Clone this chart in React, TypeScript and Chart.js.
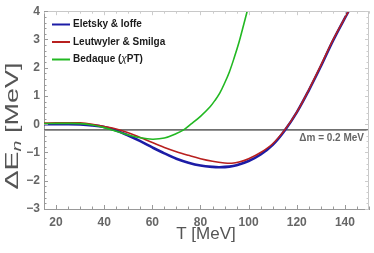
import React, { useEffect, useRef } from "react";
import { Chart, registerables } from "chart.js";

Chart.register(...registerables);

// ---- data ----
const tEletsky = [15, 20, 25, 30, 35, 40, 45, 50, 55, 60, 65, 70, 75, 80, 85, 88, 92, 95, 100, 105, 110, 115, 120, 125, 130, 135, 141.5];
const eEletsky = [0.0, 0.0, 0.0, -0.01, -0.04, -0.1, -0.22, -0.4, -0.6, -0.82, -1.03, -1.22, -1.36, -1.46, -1.51, -1.52, -1.5, -1.45, -1.3, -1.07, -0.73, -0.22, 0.42, 1.2, 2.05, 2.95, 4.0];

const tLeutwyler = [15, 20, 25, 30, 35, 40, 45, 50, 55, 60, 65, 70, 75, 80, 85, 90, 93, 96, 100, 105, 110, 115, 120, 125, 130, 135, 141.5];
const eLeutwyler = [0.04, 0.05, 0.05, 0.05, 0.0, -0.08, -0.17, -0.3, -0.47, -0.65, -0.82, -0.97, -1.1, -1.22, -1.31, -1.37, -1.38, -1.34, -1.22, -1.0, -0.69, -0.2, 0.43, 1.22, 2.08, 2.98, 4.0];

const tBedaque = [15, 20, 25, 30, 35, 40, 45, 50, 55, 60, 65, 70, 73, 76, 80, 84, 86, 88, 90, 92, 94, 96, 97.5, 99.4];
const eBedaque = [0.02, 0.03, 0.03, 0.02, -0.03, -0.12, -0.25, -0.38, -0.48, -0.53, -0.49, -0.33, -0.2, 0.0, 0.28, 0.62, 0.84, 1.1, 1.45, 1.85, 2.35, 2.9, 3.38, 4.0];

const deltaMRange = [15, 150];
const deltaMValue = -0.2;
const deltaMLabel = "Δm = 0.2 MeV";

const seriesNames = ["Eletsky & Ioffe", "Leutwyler & Smilga", "Bedaque (χPT)"];
const seriesColors = ["#1c1ca6", "#b8201f", "#22b822"];

const xTickValues = [20, 40, 60, 80, 100, 120, 140];
const yTickValues = [-3, -2, -1, 0, 1, 2, 3, 4];
const xTitle = "T [MeV]";

const FONT = "'Liberation Sans', Arial, sans-serif";

const pts = (xs: number[], ys: number[]) => xs.map((x, i) => ({ x, y: ys[i] }));

const decorPlugin = {
  id: "decor",
  afterDraw(chart: any) {
    const { ctx, chartArea: a } = chart;
    const xs = chart.scales.x;
    const ys = chart.scales.y;
    ctx.save();

    // top/right frame
    ctx.strokeStyle = "#c8c8c8";
    ctx.lineWidth = 1;
    ctx.beginPath();
    ctx.moveTo(a.left, Math.round(a.top) + 0.5);
    ctx.lineTo(a.right, Math.round(a.top) + 0.5);
    ctx.moveTo(Math.round(a.right) - 0.5, a.top);
    ctx.lineTo(Math.round(a.right) - 0.5, a.bottom);
    ctx.stroke();

    // inner ticks x
    for (let v = 15; v <= 150; v += 5) {
      const px = Math.round(xs.getPixelForValue(v)) + 0.5;
      const major = v % 20 === 0;
      const len = major ? 4 : 2.5;
      ctx.strokeStyle = "#999";
      ctx.beginPath();
      ctx.moveTo(px, a.bottom);
      ctx.lineTo(px, a.bottom - len);
      ctx.stroke();
      ctx.strokeStyle = "#ccc";
      ctx.beginPath();
      ctx.moveTo(px, a.top);
      ctx.lineTo(px, a.top + len);
      ctx.stroke();
    }
    // inner ticks y
    for (let i = -15; i <= 20; i++) {
      const v = i / 5;
      const py = Math.round(ys.getPixelForValue(v)) + 0.5;
      const major = i % 5 === 0;
      const len = major ? 4 : 2.5;
      ctx.strokeStyle = "#999";
      ctx.beginPath();
      ctx.moveTo(a.left, py);
      ctx.lineTo(a.left + len, py);
      ctx.stroke();
      ctx.strokeStyle = "#ccc";
      ctx.beginPath();
      ctx.moveTo(a.right, py);
      ctx.lineTo(a.right - len, py);
      ctx.stroke();
    }

    // legend
    const lx0 = 52, lx1 = 70, tx = 73;
    const rows = [24.5, 42, 59.5];
    ctx.textBaseline = "middle";
    ctx.textAlign = "left";
    seriesNames.forEach((name, i) => {
      ctx.strokeStyle = seriesColors[i];
      ctx.lineWidth = 2;
      ctx.beginPath();
      ctx.moveTo(lx0, rows[i]);
      ctx.lineTo(lx1, rows[i]);
      ctx.stroke();
      ctx.fillStyle = "#1a1a1a";
      if (name.includes("χ")) {
        const [pre, post] = name.split("χ");
        ctx.font = `bold 10px ${FONT}`;
        ctx.fillText(pre, tx, rows[i]);
        let w = ctx.measureText(pre).width;
        ctx.font = `italic 10px ${FONT}`;
        ctx.fillText("χ", tx + w, rows[i]);
        w += ctx.measureText("χ").width;
        ctx.font = `bold 10px ${FONT}`;
        ctx.fillText(post, tx + w, rows[i]);
      } else {
        ctx.font = `bold 10px ${FONT}`;
        ctx.fillText(name, tx, rows[i]);
      }
    });

    // delta m label
    ctx.font = `bold 10px ${FONT}`;
    ctx.fillStyle = "#666";
    ctx.textAlign = "right";
    ctx.fillText(deltaMLabel, 364, 138.5);

    // x title
    ctx.font = `17px ${FONT}`;
    ctx.fillStyle = "#555";
    ctx.textAlign = "center";
    ctx.fillText(xTitle, 206, 234);

    // y title: ΔE_n [MeV]
    ctx.translate(13, 126);
    ctx.rotate(-Math.PI / 2);
    ctx.scale(1.5, 1);
    const big = `19px ${FONT}`;
    const mid = `18px ${FONT}`;
    const sub = `italic 13px ${FONT}`;
    const parts: [string, string, number][] = [
      ["ΔE", big, 0],
      ["n", sub, 4],
      [" [MeV]", mid, 0],
    ];
    let total = 0;
    parts.forEach(([t, f]) => {
      ctx.font = f;
      total += ctx.measureText(t).width;
    });
    let cx = -total / 2;
    ctx.textAlign = "left";
    parts.forEach(([t, f, dy]) => {
      ctx.font = f;
      ctx.fillText(t, cx, dy);
      cx += ctx.measureText(t).width;
    });

    ctx.restore();
  },
};

export default function App() {
  const ref = useRef<HTMLCanvasElement | null>(null);
  useEffect(() => {
    if (!ref.current) return;
    const common = { pointRadius: 0, tension: 0.35 };
    const chart = new Chart(ref.current, {
      type: "line",
      data: {
        datasets: [
          {
            label: seriesNames[0],
            data: pts(tEletsky, eEletsky),
            borderColor: seriesColors[0],
            borderWidth: 2.6,
            order: 3,
            ...common,
          },
          {
            label: seriesNames[1],
            data: pts(tLeutwyler, eLeutwyler),
            borderColor: seriesColors[1],
            borderWidth: 1.6,
            order: 2,
            ...common,
          },
          {
            label: seriesNames[2],
            data: pts(tBedaque, eBedaque),
            borderColor: seriesColors[2],
            borderWidth: 1.6,
            order: 1,
            ...common,
          },
          {
            label: "Δm",
            data: pts(deltaMRange, [deltaMValue, deltaMValue]),
            borderColor: "#707070",
            borderWidth: 1.8,
            pointRadius: 0,
            order: 5,
          },
        ],
      },
      options: {
        responsive: false,
        animation: false,
        events: [],
        layout: { padding: { top: 8, right: 5, left: 0, bottom: 0 } },
        plugins: { legend: { display: false }, tooltip: { enabled: false } },
        scales: {
          x: {
            type: "linear",
            min: 15,
            max: 150,
            afterBuildTicks: (s: any) => {
              s.ticks = xTickValues.map((v) => ({ value: v }));
            },
            afterFit: (s: any) => {
              s.height = 44;
            },
            grid: { display: false, drawTicks: false },
            border: { display: true, color: "#999", width: 1 },
            ticks: {
              padding: 6,
              color: "#666",
              font: { family: FONT, size: 12, weight: "bold" },
              maxRotation: 0,
            },
          },
          y: {
            type: "linear",
            min: -3,
            max: 4,
            afterBuildTicks: (s: any) => {
              s.ticks = yTickValues.map((v) => ({ value: v }));
            },
            afterFit: (s: any) => {
              s.width = 44;
            },
            grid: { display: false, drawTicks: false },
            border: { display: true, color: "#999", width: 1 },
            ticks: {
              padding: 4,
              color: "#666",
              font: { family: FONT, size: 12, weight: "bold" },
              callback: (v: any) => (v < 0 ? "−" + Math.abs(v) : String(v)),
            },
          },
        },
      },
      plugins: [decorPlugin],
    } as any);
    return () => chart.destroy();
  }, []);
  return (
    <div style={{ position: "fixed", left: 0, top: 0, width: 374, height: 253, background: "#fff" }}>
      <canvas ref={ref} width={374} height={253} style={{ display: "block" }} />
    </div>
  );
}
